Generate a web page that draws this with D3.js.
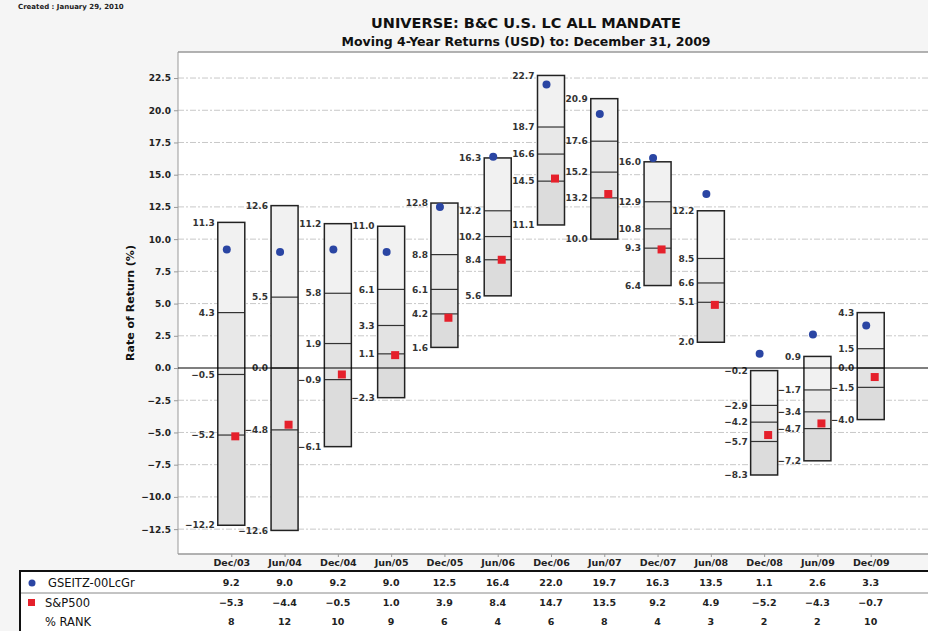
<!DOCTYPE html>
<html>
<head>
<meta charset="utf-8">
<script src="https://cdn.jsdelivr.net/npm/d3@7"></script>
<style>
  html, body { margin: 0; padding: 0; background: #f5f5f5; }
  svg { display: block; font-family: "DejaVu Sans", Verdana, sans-serif; }
</style>
</head>
<body>
<svg id="chart" width="928" height="631"></svg>
<script>
// ---------------- DATA ----------------
const categories = ["Dec/03","Jun/04","Dec/04","Jun/05","Dec/05","Jun/06","Dec/06","Jun/07","Dec/07","Jun/08","Dec/08","Jun/09","Dec/09"];
const p05 = [11.3, 12.6, 11.2, 11.0, 12.8, 16.3, 22.7, 20.9, 16.0, 12.2, -0.2, 0.9, 4.3];
const p25 = [4.3, 5.5, 5.8, 6.1, 8.8, 12.2, 18.7, 17.6, 12.9, 8.5, -2.9, -1.7, 1.5];
const p50 = [-0.5, 0.0, 1.9, 3.3, 6.1, 10.2, 16.6, 15.2, 10.8, 6.6, -4.2, -3.4, 0.0];
const p75 = [-5.2, -4.8, -0.9, 1.1, 4.2, 8.4, 14.5, 13.2, 9.3, 5.1, -5.7, -4.7, -1.5];
const p95 = [-12.2, -12.6, -6.1, -2.3, 1.6, 5.6, 11.1, 10.0, 6.4, 2.0, -8.3, -7.2, -4.0];
const fund = [9.2, 9.0, 9.2, 9.0, 12.5, 16.4, 22.0, 19.7, 16.3, 13.5, 1.1, 2.6, 3.3];
const sp500 = [-5.3, -4.4, -0.5, 1.0, 3.9, 8.4, 14.7, 13.5, 9.2, 4.9, -5.2, -4.3, -0.7];
const rank = [8, 12, 10, 9, 6, 4, 6, 8, 4, 3, 2, 2, 10];
const yTicks = [-12.5, -10.0, -7.5, -5.0, -2.5, 0.0, 2.5, 5.0, 7.5, 10.0, 12.5, 15.0, 17.5, 20.0, 22.5];
const fundName = "GSEITZ-00LcGr";
const benchName = "S&P500";
const rankName = "% RANK";
const titleText = "UNIVERSE: B&C U.S. LC ALL MANDATE";
const subtitleText = "Moving 4-Year Returns (USD) to: December 31, 2009";
const createdText = "Created : January 29, 2010";
const yLabel = "Rate of Return (%)";

// ---------------- LAYOUT ----------------
const W = 928, H = 631;
const plot = { left: 178, right: 928, top: 52, bottom: 554 };
const svg = d3.select("#chart");
const fmt = d3.format(".1f");

const x = d3.scalePoint().domain(categories).range([178, 924]).padding(1);
const y = d3.scaleLinear().domain([-14.43, 24.52]).range([plot.bottom, plot.top]);

// backgrounds
svg.append("rect").attr("x", 0).attr("y", 0).attr("width", W).attr("height", H).attr("fill", "#f5f5f5");
svg.append("rect").attr("x", plot.left).attr("y", plot.top)
  .attr("width", plot.right - plot.left).attr("height", plot.bottom - plot.top).attr("fill", "#ffffff");

// created text
svg.append("text").attr("x", 18).attr("y", 9).attr("font-size", 7).attr("font-weight", "bold")
  .attr("fill", "#222").text(createdText);

// titles
svg.append("text").attr("x", 526).attr("y", 28).attr("text-anchor", "middle")
  .attr("font-size", 14.5).attr("font-weight", "bold").attr("fill", "#111").text(titleText);
svg.append("text").attr("x", 526).attr("y", 46).attr("text-anchor", "middle")
  .attr("font-size", 12.5).attr("font-weight", "bold").attr("fill", "#111").text(subtitleText);

// top border of plot
svg.append("line").attr("x1", plot.left).attr("x2", plot.right).attr("y1", plot.top).attr("y2", plot.top)
  .attr("stroke", "#999").attr("stroke-width", 1.5);

// gridlines
svg.append("g").selectAll("line").data(yTicks.filter(d => d !== 0)).join("line")
  .attr("x1", plot.left).attr("x2", plot.right)
  .attr("y1", d => y(d)).attr("y2", d => y(d))
  .attr("stroke", "#c8c8c8").attr("stroke-width", 1).attr("stroke-dasharray", "6,2,2,2");

// y axis
const yAxis = d3.axisLeft(y).tickValues(yTicks).tickFormat(fmt).tickSize(4).tickSizeOuter(0);
const gy = svg.append("g").attr("transform", `translate(${plot.left},0)`).call(yAxis);
gy.select(".domain").attr("stroke", "#999").attr("d", `M0,${plot.top}V${plot.bottom}`);
gy.selectAll(".tick line").attr("stroke", "#999");
gy.selectAll(".tick text").attr("font-size", 9).attr("font-weight", "bold").attr("fill", "#222")
  .attr("font-family", "DejaVu Sans, sans-serif").attr("x", -7);

// y axis label
svg.append("text").attr("transform", `translate(134,${303}) rotate(-90)`)
  .attr("text-anchor", "middle").attr("font-size", 11).attr("font-weight", "bold")
  .attr("fill", "#111").text(yLabel);

// boxes
const bw = 27;
const rows = categories.map((c, i) => ({ c, i, v: [p05[i], p25[i], p50[i], p75[i], p95[i]] }));
const segFill = ["#f1f1f1", "#e8e8e8", "#e3e3e3", "#dcdcdc"];
const gBoxes = svg.append("g");
rows.forEach(r => {
  const cx = x(r.c);
  const g = gBoxes.append("g");
  for (let k = 0; k < 4; k++) {
    g.append("rect").attr("x", cx - bw / 2).attr("width", bw)
      .attr("y", y(r.v[k])).attr("height", y(r.v[k + 1]) - y(r.v[k]))
      .attr("fill", segFill[k]);
  }
  for (let k = 1; k < 4; k++) {
    g.append("line").attr("x1", cx - bw / 2).attr("x2", cx + bw / 2)
      .attr("y1", y(r.v[k])).attr("y2", y(r.v[k])).attr("stroke", "#333").attr("stroke-width", 1.2);
  }
  g.append("rect").attr("x", cx - bw / 2).attr("width", bw)
    .attr("y", y(r.v[0])).attr("height", y(r.v[4]) - y(r.v[0]))
    .attr("fill", "none").attr("stroke", "#222").attr("stroke-width", 1.5);
  r.v.forEach(v => {
    g.append("text").attr("x", cx - bw / 2 - 3).attr("y", y(v)).attr("dy", "0.35em")
      .attr("text-anchor", "end").attr("font-size", 9).attr("font-weight", "bold")
      .attr("fill", "#333").text(fmt(v));
  });
});

// zero line
svg.append("line").attr("x1", plot.left).attr("x2", plot.right).attr("y1", y(0)).attr("y2", y(0))
  .attr("stroke", "#000").attr("stroke-width", 1.2);

// markers
svg.append("g").selectAll("circle").data(categories).join("circle")
  .attr("cx", d => x(d) - 4.5).attr("cy", (d, i) => y(fund[i])).attr("r", 4)
  .attr("fill", "#2a45a3");
svg.append("g").selectAll("rect").data(categories).join("rect")
  .attr("x", d => x(d)).attr("y", (d, i) => y(sp500[i]) - 4)
  .attr("width", 8).attr("height", 8).attr("fill", "#e5202b");

// x axis
const xAxis = d3.axisBottom(x).tickSize(3).tickSizeOuter(0);
const gx = svg.append("g").attr("transform", `translate(0,${plot.bottom})`).call(xAxis);
gx.select(".domain").attr("stroke", "#999").attr("stroke-width", 1.5).attr("d", `M${plot.left},0H${plot.right}`);
gx.selectAll(".tick line").attr("stroke", "#999");
gx.selectAll(".tick text").attr("font-size", 9.5).attr("font-weight", "bold").attr("fill", "#222")
  .attr("font-family", "DejaVu Sans, sans-serif").attr("y", 5).attr("dy", "0.71em");

// table
const tTop = 571;
svg.append("rect").attr("x", 20).attr("y", tTop).attr("width", 920).attr("height", 70)
  .attr("fill", "#fff").attr("stroke", "#111").attr("stroke-width", 2);
svg.append("line").attr("x1", 21).attr("x2", 928).attr("y1", 593).attr("y2", 593)
  .attr("stroke", "#888").attr("stroke-width", 1);
const rowY = [583, 603, 622];
svg.append("circle").attr("cx", 32).attr("cy", rowY[0]).attr("r", 3.5).attr("fill", "#2a45a3");
svg.append("rect").attr("x", 28).attr("y", rowY[1] - 4).attr("width", 7).attr("height", 7).attr("fill", "#e5202b");
[fundName, benchName, rankName].forEach((t, i) => {
  svg.append("text").attr("x", i === 0 ? 48 : 45).attr("y", rowY[i]).attr("dy", "0.35em")
    .attr("font-size", 11.5).attr("fill", "#111").text(t);
});
[fund.map(fmt), sp500.map(fmt), rank.map(String)].forEach((vals, ri) => {
  svg.append("g").selectAll("text").data(categories).join("text")
    .attr("x", d => x(d)).attr("y", rowY[ri]).attr("dy", "0.35em").attr("text-anchor", "middle")
    .attr("font-size", 9.5).attr("font-weight", "bold").attr("fill", "#222")
    .text((d, i) => vals[i]);
});
</script>
</body>
</html>
